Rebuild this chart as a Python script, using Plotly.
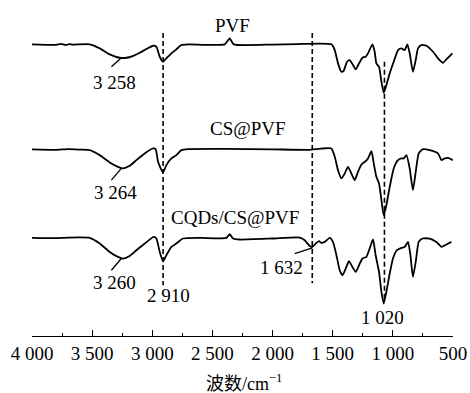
import plotly.graph_objects as go

# ---------------- data (wavenumber cm-1, transmittance a.u. with offsets) ----------------
pvf_wn = [4000, 3800, 3760, 3720, 3690, 3660, 3520, 3437, 3354, 3271, 3215, 3163, 3105, 3049,
          2994, 2966, 2938, 2911, 2883, 2841, 2800, 2758, 2700, 2398, 2356, 2323, 2000, 1800,
          1511, 1483, 1456, 1428, 1409, 1381, 1359, 1331, 1309, 1281, 1253, 1226, 1207, 1170,
          1151, 1137, 1115, 1095, 1076, 1054, 1026, 993, 957, 929, 902, 879, 860, 833, 810,
          791, 763, 721, 666, 625, 583, 555, 505]
pvf_t = [291.4, 290.9, 291.9, 290.7, 291.7, 291.2, 291.4, 287.4, 281.4, 278.0, 278.0, 279.7, 283.0, 286.7,
         290.0, 289.0, 279.0, 274.0, 277.4, 282.4, 286.4, 290.7, 291.4, 291.4, 297.4, 291.4, 291.2, 291.6,
         291.4, 285.7, 272.4, 264.0, 265.0, 274.0, 275.7, 270.7, 266.4, 272.4, 278.0, 279.0, 282.4, 291.4,
         284.0, 272.4, 269.0, 254.0, 243.0, 250.7, 262.4, 274.0, 285.7, 287.4, 285.7, 291.4, 282.4, 264.0, 275.7,
         287.4, 290.7, 290.0, 284.0, 277.4, 273.0, 276.4, 282.4]

cs_wn = [4000, 3800, 3700, 3600, 3520, 3437, 3354, 3285, 3243, 3188, 3132, 3063, 2994, 2972,
         2952, 2911, 2883, 2841, 2800, 2758, 2700, 2400, 2000, 1700, 1600, 1511, 1483, 1456,
         1428, 1400, 1373, 1345, 1317, 1290, 1261, 1226, 1207, 1178, 1159, 1137, 1115, 1095,
         1076, 1054, 1026, 993, 957, 929, 910, 887, 860, 833, 810, 785, 754, 694, 625, 596,
         569, 542, 500]
cs_t = [186.4, 186.0, 186.7, 186.2, 185.7, 180.7, 173.4, 169.0, 167.4, 170.0, 175.7, 182.4, 187.4, 186.7,
        174.0, 163.4, 170.7, 177.4, 180.7, 185.7, 186.7, 186.9, 186.5, 186.0, 187.2, 187.4, 179.0, 165.7,
        157.4, 162.4, 169.0, 162.4, 155.7, 164.0, 171.4, 174.7, 177.4, 184.7, 172.4, 159.0, 152.4, 135.7,
        120.7, 130.7, 149.0, 167.4, 175.7, 177.4, 177.4, 180.7, 167.4, 145.7, 164.0, 182.4, 186.4, 185.7, 182.4, 175.7,
        177.4, 178.0, 175.7]

cqd_wn = [4000, 3800, 3700, 3520, 3437, 3354, 3285, 3243, 3188, 3132, 3063, 2988, 2966, 2938,
          2911, 2883, 2841, 2800, 2745, 2600, 2384, 2356, 2329, 2272, 2000, 1774, 1733, 1691,
          1669, 1641, 1614, 1594, 1567, 1525, 1498, 1469, 1442, 1419, 1392, 1365, 1336, 1309,
          1281, 1253, 1220, 1193, 1165, 1143, 1115, 1095, 1076, 1054, 1026, 999, 966, 929, 902,
          874, 854, 833, 810, 785, 754, 694, 638, 596, 555, 513]
cqd_t = [98.0, 97.7, 98.3, 98.0, 92.4, 84.0, 79.0, 77.4, 80.0, 85.7, 92.4, 99.0, 97.4, 84.0,
         74.7, 80.7, 89.0, 92.4, 97.4, 98.0, 98.0, 101.7, 97.4, 96.4, 97.4, 98.4, 95.7, 90.0,
         89.0, 92.4, 94.7, 93.0, 94.0, 98.0, 94.0, 80.7, 65.7, 60.7, 67.4, 74.7, 69.0, 64.0,
         70.7, 77.4, 79.0, 87.4, 96.4, 80.7, 64.0, 44.0, 32.4, 44.0, 62.4, 77.4, 85.7, 88.0, 89.0,
         94.0, 80.7, 59.0, 74.0, 94.0, 97.4, 97.4, 94.0, 89.0, 91.4, 94.0]

tick_vals = [4000, 3500, 3000, 2500, 2000, 1500, 1000, 500]
tick_text = ["4 000", "3 500", "3 000", "2 500", "2 000", "1 500", "1 000", "500"]
minor_vals = [3750, 3250, 2750, 2250, 1750, 1250, 750]

# reference (dashed) lines: wavenumber, top, bottom
ref_wn = [2910, 1670, 1070]
ref_top = [302.7, 302.7, 274.0]
ref_bot = [50.7, 52.7, 35.7]

# labels
series_names = ["PVF", "CS@PVF", "CQDs/CS@PVF"]
name_pos_x = [2331, 2207, 2315]
name_pos_y = [310.7, 207.7, 118.2]

peak_text = ["3 258", "3 264", "3 260", "2 910", "1 632", "1 020"]
peak_x = [3312, 3308, 3312, 2868, 1928, 1085]
peak_y = [253.2, 143.2, 53.2, 40.2, 68.2, 18.2]

# leader lines: x0, y0, x1, y1
lead_x0 = [3340, 3340, 3340, 1816]
lead_y0 = [269.0, 155.7, 65.7, 82.4]
lead_x1 = [3257, 3257, 3257, 1669]
lead_y1 = [278.0, 167.4, 77.4, 88.0]

SERIF = "Liberation Serif, Times New Roman, serif"

fig = go.Figure()
for wn, t in [(pvf_wn, pvf_t), (cs_wn, cs_t), (cqd_wn, cqd_t)]:
    fig.add_trace(go.Scatter(x=wn, y=t, mode="lines",
                             line=dict(color="black", width=1.8, shape="spline", smoothing=0.5),
                             showlegend=False, hoverinfo="skip"))

for x, y0, y1 in zip(ref_wn, ref_top, ref_bot):
    fig.add_shape(type="line", x0=x, x1=x, y0=y0, y1=y1, xref="x", yref="y",
                  line=dict(color="black", width=1.6, dash="5px,3px"))

for x0, y0, x1, y1 in zip(lead_x0, lead_y0, lead_x1, lead_y1):
    fig.add_shape(type="line", x0=x0, x1=x1, y0=y0, y1=y1, xref="x", yref="y",
                  line=dict(color="black", width=1.3))

for txt, x, y in zip(series_names, name_pos_x, name_pos_y):
    fig.add_annotation(x=x, y=y, text=txt, showarrow=False, xref="x", yref="y",
                       font=dict(family=SERIF, size=19, color="black"))
for txt, x, y in zip(peak_text, peak_x, peak_y):
    fig.add_annotation(x=x, y=y, text=txt, showarrow=False, xref="x", yref="y",
                       font=dict(family=SERIF, size=19, color="black"))

fig.add_annotation(x=2240, y=-0.138, text="波数/cm<sup>−1</sup>", showarrow=False,
                   xref="x", yref="paper", yanchor="middle",
                   font=dict(family="Liberation Serif, Noto Sans CJK SC, serif", size=18, color="black"))

fig.update_layout(
    width=470, height=393,
    margin=dict(l=32.3, r=16.7, t=0, b=57.3, pad=0),
    plot_bgcolor="white", paper_bgcolor="white",
    xaxis=dict(range=[4000, 500], showgrid=False, zeroline=False,
               showline=True, linecolor="black", linewidth=1.4,
               ticks="inside", ticklen=6, tickwidth=1.4, tickcolor="black",
               tickmode="array", tickvals=tick_vals, ticktext=tick_text,
               tickfont=dict(family=SERIF, size=19, color="black"),
               minor=dict(tickmode="array", tickvals=minor_vals, ticks="inside",
                          ticklen=3, tickwidth=1.4, tickcolor="black", showgrid=False)),
    yaxis=dict(range=[0, 335.7], visible=False),
)

fig.write_html("out.html")
